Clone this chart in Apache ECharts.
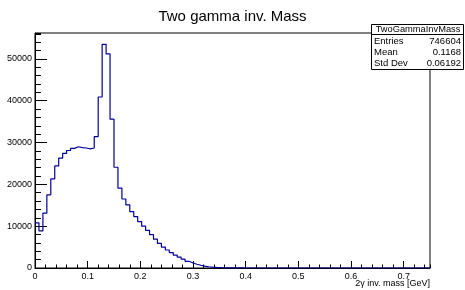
<!DOCTYPE html>
<html>
<head>
<meta charset="utf-8">
<script src="https://cdn.jsdelivr.net/npm/echarts@6/dist/echarts.min.js"></script>
<style>html,body{margin:0;padding:0;background:#fff}#c{width:465px;height:290px}</style>
</head>
<body>
<div id="c"></div>
<script>
// Histogram: 100 bins from 0 to 0.75 GeV
const xMin = 0, xMax = 0.75, nBins = 100;
const binValues = [
  10800, 8900, 13100, 17500, 21300, 24400, 26300, 27400, 28100, 28600,
  29000, 28800, 28700, 28500, 28700, 31400, 40900, 53500, 51200, 35600,
  24100, 19100, 16500, 15100, 13500, 12300, 11100, 10000, 9000, 8000,
  6900, 5900, 5000, 4300, 3700, 3100, 2600, 2100, 1600, 1200,
  900, 650, 450, 300, 200, 140, 90, 60, 40, 25,
  15, 10, 6, 4, 2, 1, 0, 0, 0, 0,
  0, 0, 0, 0, 0, 0, 0, 0, 0, 0,
  0, 0, 0, 0, 0, 0, 0, 0, 0, 0,
  0, 0, 0, 0, 0, 0, 0, 0, 0, 0,
  0, 0, 0, 0, 0, 0, 0, 0, 0, 0
];
const yMax = 56200;
const xTickLabels = ['0', '0.1', '0.2', '0.3', '0.4', '0.5', '0.6', '0.7'];
const yTickLabels = ['0', '10000', '20000', '30000', '40000', '50000'];
const statNames = ['Entries', 'Mean', 'Std Dev'];
const statValues = ['746604', '0.1168', '0.06192'];
const histName = 'TwoGammaInvMass';

const binW = (xMax - xMin) / nBins;
const pts = binValues.map((v, i) => [xMin + i * binW, v]);
pts.push([xMax, binValues[binValues.length - 1]]);

const FONT = '"Liberation Sans", Arial, sans-serif';
const chart = echarts.init(document.getElementById('c'), null, {renderer: 'canvas'});

const statGraphics = [];
statGraphics.push({type: 'rect', shape: {x: 371.5, y: 24.5, width: 92, height: 45}, style: {fill: '#fff', stroke: '#000', lineWidth: 1}, z: 100});
statGraphics.push({type: 'line', shape: {x1: 371.5, y1: 34.5, x2: 463.5, y2: 34.5}, style: {stroke: '#000', lineWidth: 1}, z: 101});
statGraphics.push({type: 'text', x: 418, y: 29.5, style: {text: histName, font: '9.3px ' + FONT, fill: '#000', align: 'center', verticalAlign: 'middle'}, z: 102});
statNames.forEach((n, i) => {
  statGraphics.push({type: 'text', x: 374, y: 41 + i * 11, style: {text: n, font: '9.5px ' + FONT, fill: '#000', align: 'left', verticalAlign: 'middle'}, z: 102});
  statGraphics.push({type: 'text', x: 461, y: 41 + i * 11, style: {text: statValues[i], font: '9.5px ' + FONT, fill: '#000', align: 'right', verticalAlign: 'middle'}, z: 102});
});

chart.setOption({
  animation: false,
  backgroundColor: '#fff',
  title: {
    text: 'Two gamma inv. Mass', left: 'center', top: 4,
    textStyle: {fontFamily: FONT, fontSize: 15, fontWeight: 'normal', color: '#000'}
  },
  grid: {left: 35, right: 35, top: 33, bottom: 22, show: true, borderColor: '#000', borderWidth: 1, backgroundColor: 'transparent'},
  xAxis: [{
    type: 'value', min: xMin, max: xMax, interval: 0.1, position: 'bottom',
    axisLine: {show: true, lineStyle: {color: '#000', width: 1}},
    axisTick: {show: true, inside: true, length: 7, lineStyle: {color: '#000'}},
    axisLabel: {show: true, margin: 4, fontFamily: FONT, fontSize: 9, color: '#000', showMaxLabel: false,
      formatter: v => { const k = Math.round(v * 10); return (k >= 0 && k < xTickLabels.length && Math.abs(v*10 - k) < 1e-6) ? xTickLabels[k] : ''; }},
    splitLine: {show: false}
  }, {
    type: 'value', min: xMin, max: xMax, interval: 0.02, position: 'bottom',
    axisLine: {show: false},
    axisTick: {show: true, inside: true, length: 3.5, lineStyle: {color: '#000'}},
    axisLabel: {show: false}, splitLine: {show: false}
  }],
  yAxis: [{
    type: 'value', min: 0, max: yMax, interval: 10000, position: 'left',
    axisLine: {show: true, lineStyle: {color: '#000', width: 1}},
    axisTick: {show: true, inside: true, length: 12, lineStyle: {color: '#000'}},
    axisLabel: {show: true, margin: 3, fontFamily: FONT, fontSize: 9, color: '#000', showMaxLabel: false,
      formatter: v => { const k = Math.round(v / 10000); return (Math.abs(v - k*10000) < 1e-6 && k < yTickLabels.length) ? yTickLabels[k] : ''; }},
    splitLine: {show: false}
  }, {
    type: 'value', min: 0, max: yMax, interval: 2000, position: 'left', offset: 0,
    axisLine: {show: false},
    axisTick: {show: true, inside: true, length: 6, lineStyle: {color: '#000'}},
    axisLabel: {show: false}, splitLine: {show: false}
  }],
  series: [{
    type: 'line', step: 'end', data: pts, xAxisIndex: 0, yAxisIndex: 0,
    symbol: 'none', lineStyle: {color: '#000099', width: 1.2}, clip: true
  }],
  graphic: [
    {type: 'text', x: 430, y: 284, style: {text: '2γ inv. mass [GeV]', font: '9px ' + FONT, fill: '#000', align: 'right', verticalAlign: 'middle'}},
    ...statGraphics
  ]
});
</script>
</body>
</html>
